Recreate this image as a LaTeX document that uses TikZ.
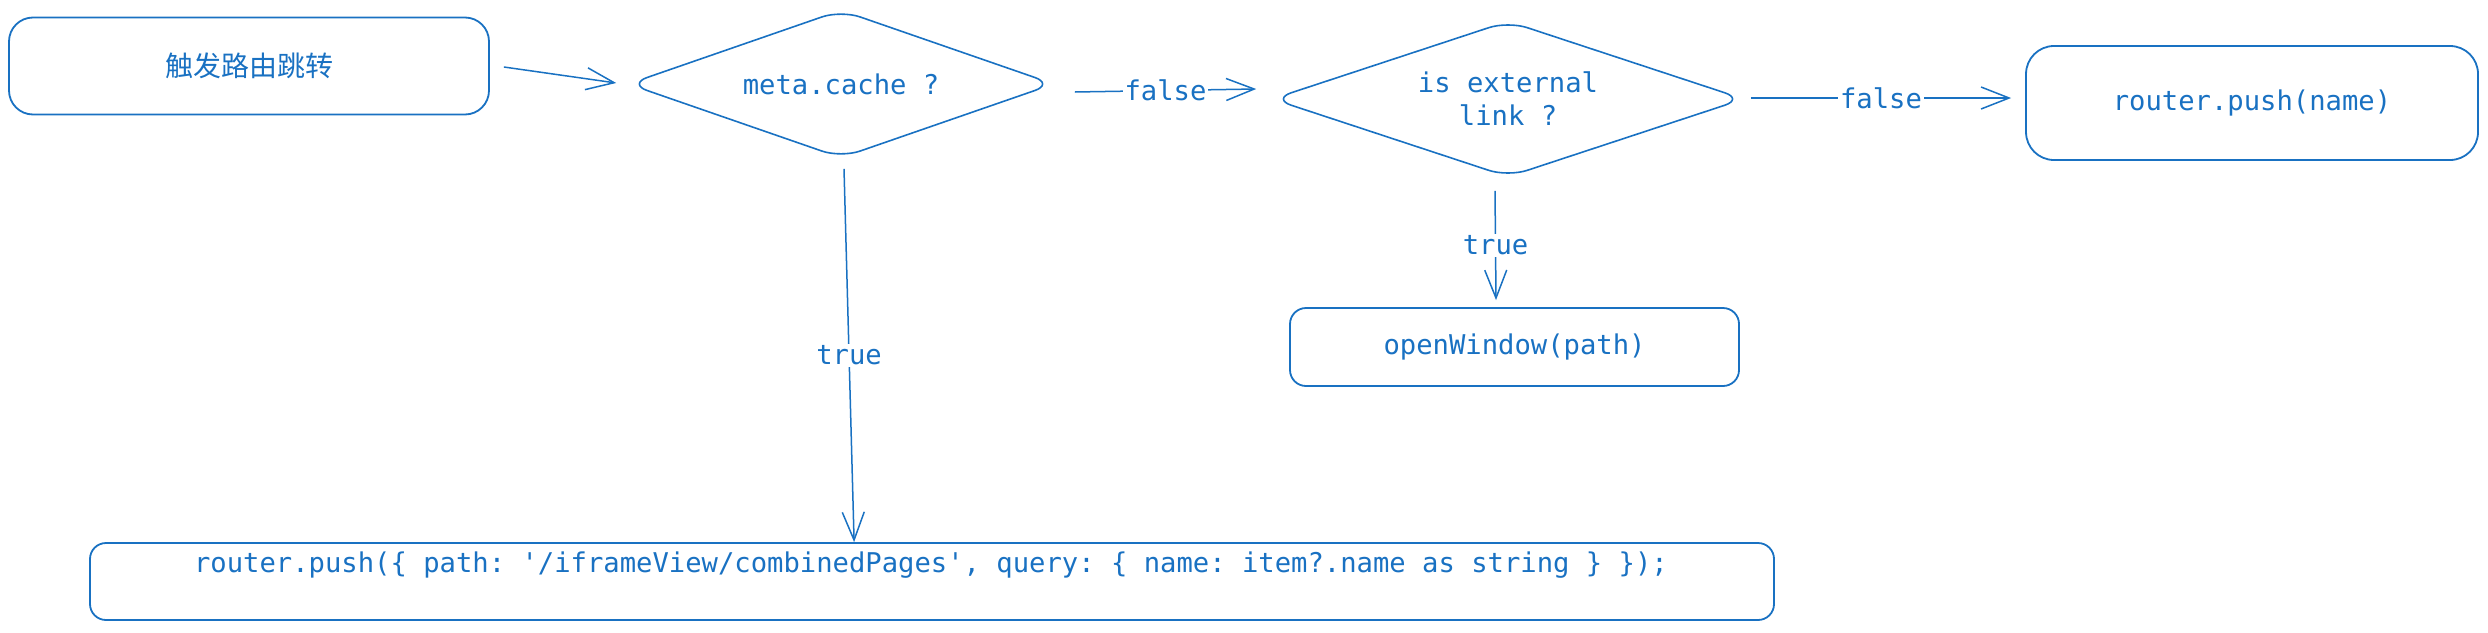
\documentclass[tikz,border=0pt]{standalone}
\usepackage{fontspec}
\setmonofont{DejaVu Sans Mono}
\newfontfamily\cjk{Noto Sans CJK SC}
\usetikzlibrary{shapes.geometric,arrows.meta,calc}
\definecolor{ink}{HTML}{1971C2}
\begin{document}
\begin{tikzpicture}[x=0.5pt,y=-0.5pt,
  every node/.style={text=ink, font=\ttfamily\fontsize{13.6}{16.5}\selectfont},
  box/.style={draw=ink, line width=0.9pt, rounded corners=12pt, inner sep=0pt},
  dec/.style={draw=ink, line width=0.8pt, diamond, shape aspect=3, rounded corners=10pt, inner sep=0pt, align=center},
  arr/.style={draw=ink, line width=0.75pt, -{Straight Barb[length=14pt,width=11pt,line width=0.75pt]}},
  lbl/.style={fill=white, inner sep=1pt}]
\useasboundingbox (0,0) rectangle (2488,632);

\node[box, minimum width=240pt, minimum height=48.5pt] (b1) at (249,66) {\cjk\fontsize{14}{17}\selectfont 触发路由跳转};
\node[dec, minimum width=213pt, minimum height=74pt] (d1) at (841,84) {meta.cache ?};
\node[dec, minimum width=236pt, minimum height=78pt] (d2) at (1508,99) {is external\\link ?};
\node[box, rounded corners=14pt, minimum width=226pt, minimum height=57pt] (b2) at (2252,103) {router.push(name)};
\node[box, rounded corners=8pt, minimum width=224.5pt, minimum height=39pt] (b3) at (1514.5,347) {openWindow(path)};
\node[box, rounded corners=8pt, minimum width=842pt, minimum height=38.5pt] (b4) at (932,581.5) {};
\node (b4t) at ($(b4.north)+(-1,23)$) {router.push(\{ path: '/iframeView/combinedPages', query: \{ name: item?.name as string \} \});};

\draw[arr] ($(b1.east)+(14,1)$) -- ($(d1.west)+(-11,-1)$);
\draw[arr] ($(d1.east)+(20,8)$) -- node[lbl] {false} ($(d2.west)+(-15,-10)$);
\draw[arr] ($(d2.east)+(6,-1)$) -- node[lbl] {false} ($(b2.west)+(-14,-5)$);
\draw[arr] ($(d2.south)+(-13,13)$) -- node[lbl] {true} ($(b3.north)+(-18.5,-7)$);
\draw[arr] ($(d1.south)+(3,10)$) -- node[lbl] {true} ($(b4.north west)+(765,0)$);
\end{tikzpicture}
\end{document}
